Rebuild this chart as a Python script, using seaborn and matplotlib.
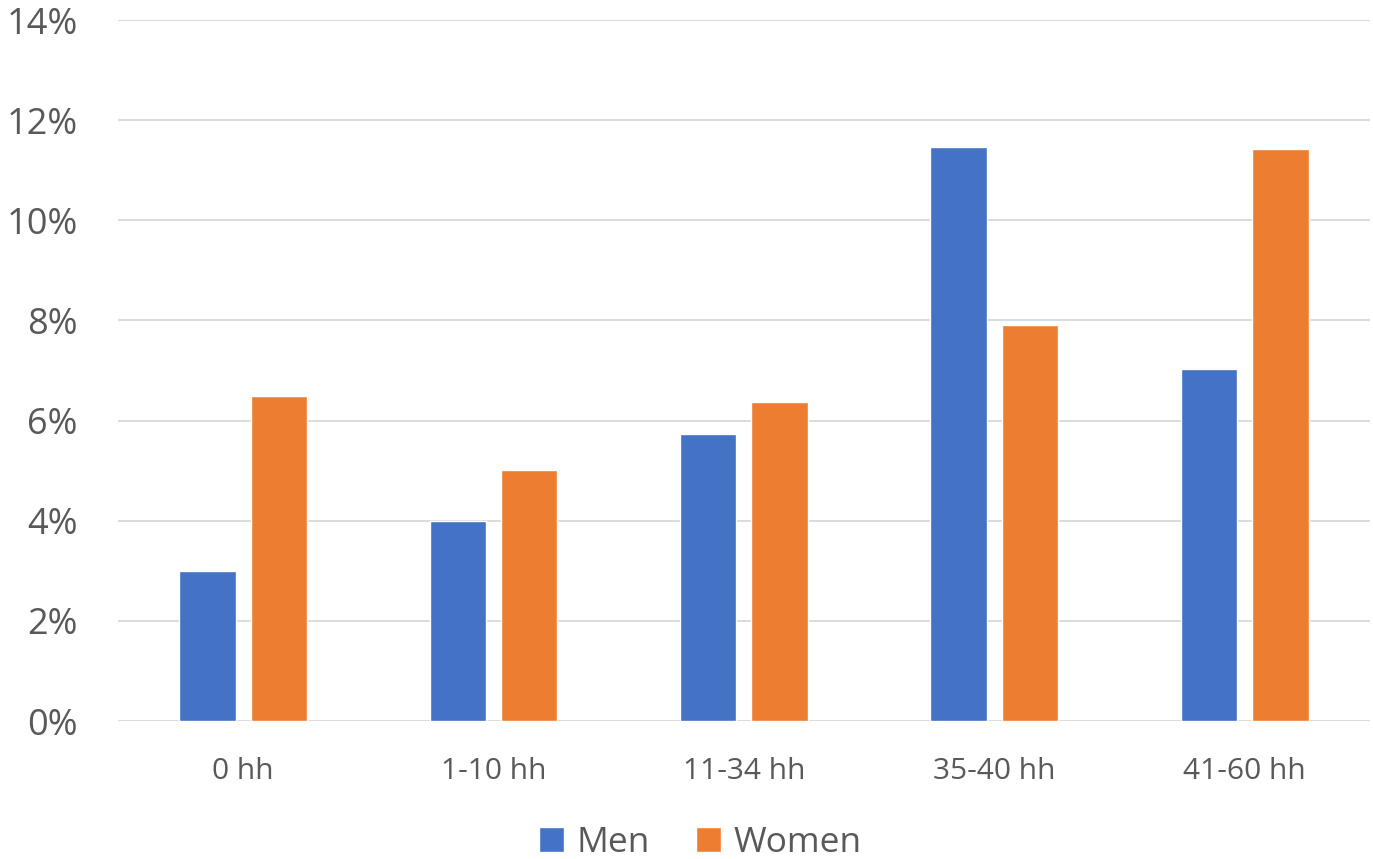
import matplotlib.pyplot as plt
import matplotlib.ticker as mticker
import pandas as pd
import seaborn as sns

categories = ['0 hh', '1-10 hh', '11-34 hh', '35-40 hh', '41-60 hh']
men = [3.0, 4.0, 5.73, 11.46, 7.03]
women = [6.49, 5.01, 6.37, 7.91, 11.42]
groups = ['Men', 'Women']
colors = ['#4472C4', '#ED7D31']

df = pd.DataFrame({
    'cat': categories * 2,
    'value': men + women,
    'group': ['Men'] * len(categories) + ['Women'] * len(categories),
})

sns.set_theme(style='white')
plt.rcParams['font.family'] = ['Open Sans', 'DejaVu Sans']
text_col = '#595959'

fig = plt.figure(figsize=(13.73, 8.59), dpi=100)
ax = fig.add_axes([0.0859, 0.1606, 0.9119, 0.8161])

sns.barplot(data=df, x='cat', y='value', hue='group', order=categories,
            hue_order=groups, palette=colors, width=0.57, gap=0.21,
            saturation=1, ax=ax, legend=True)

ax.set_xlim(-0.5, 4.5)
ax.set_ylim(0, 14)
ax.yaxis.set_major_locator(mticker.MultipleLocator(2))
ax.yaxis.set_major_formatter(mticker.FuncFormatter(lambda v, p: f'{v:.0f}%'))
ax.grid(axis='y', color='#D9D9D9', linewidth=1.3)
ax.set_axisbelow(True)
for s in ax.spines.values():
    s.set_visible(False)
ax.tick_params(axis='y', length=0, pad=29, labelsize=26, labelcolor=text_col)
ax.tick_params(axis='x', length=0, pad=26, labelsize=21.5, labelcolor=text_col)
ax.set_xlabel('')
ax.set_ylabel('')

leg = ax.legend(loc='center', bbox_to_anchor=(0.51, 0.019),
                bbox_transform=fig.transFigure, ncol=2,
                frameon=False, fontsize=25.5, handlelength=0.72, handleheight=0.72,
                handletextpad=0.35, columnspacing=1.3, borderaxespad=0)
for t in leg.get_texts():
    t.set_color(text_col)

fig.savefig('out.png', dpi=100)
